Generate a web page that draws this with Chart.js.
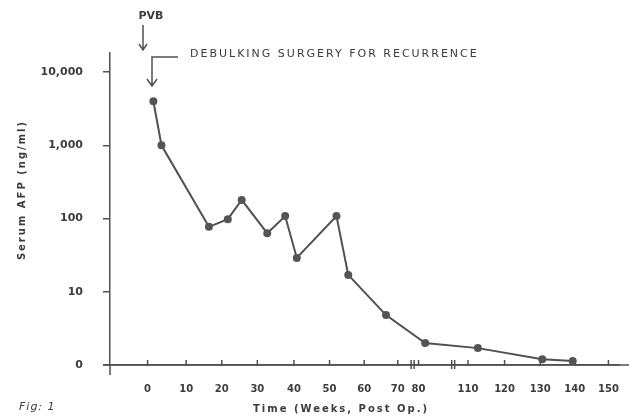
<!DOCTYPE html>
<html>
<head>
<meta charset="utf-8">
<script src="https://cdn.jsdelivr.net/npm/chart.js@4/dist/chart.umd.min.js"></script>
<style>
 html, body { margin: 0; background: #fff; }
</style>
</head>
<body>
<canvas id="afpChart" width="629" height="419"></canvas>
<script>
 // Serum AFP after surgery (weeks post op, ng/ml)
 const weeks = [1.5, 3.6, 16.4, 21.7, 25.6, 32.7, 37.6, 40.8, 52, 55.4, 66.5, 84, 112.7, 130.6, 139.4];
 const afpValues = [4000, 1000, 77, 98, 179, 63, 108, 29, 108, 17, 4.8, 2.0, 1.7, 1.2, 1.13];

 // broken time axis: tick labels and where they sit on the axis
 const tickWeeks = [0, 10, 20, 30, 40, 50, 60, 70, 80, 110, 120, 130, 140, 150];
 const tickLabels = ['0', '10', '20', '30', '40', '50', '60', '70', '80', '110', '120', '130', '140', '150'];
 const tickPos = [38, 77, 113, 149, 186, 222, 257, 291, 312, 362, 399, 435, 470, 504];
 const breakPos = [306, 347];

 const yTickValues = [1, 10, 100, 1000, 10000];
 const yTickLabels = ['0', '10', '100', '1,000', '10,000'];

 const ink = '#505050';
 const textInk = '#3c3c3c';

 // weeks -> position on the drawn (broken) axis
 function weekToPos(w) {
 	for (let i = 0; i < tickWeeks.length - 1; i++) {
 		if (w <= tickWeeks[i + 1]) {
 			const t = (w - tickWeeks[i]) / (tickWeeks[i + 1] - tickWeeks[i]);
 			return tickPos[i] + t * (tickPos[i + 1] - tickPos[i]);
 		}
 	}
 	return tickPos[tickPos.length - 1];
 }

 const extras = {
 	id: 'extras',
 	afterDraw(chart) {
 		const ctx = chart.ctx;
 		const xs = chart.scales.x;
 		const area = chart.chartArea;
 		ctx.save();
 		ctx.strokeStyle = ink;
 		ctx.fillStyle = textInk;
 		ctx.lineWidth = 1.5;

 		// small tick marks on the time axis
 		tickPos.forEach(p => {
 			const x = xs.getPixelForValue(p);
 			ctx.beginPath();
 			ctx.moveTo(x, area.bottom - 5);
 			ctx.lineTo(x, area.bottom + 1);
 			ctx.stroke();
 		});

 		// axis break marks
 		breakPos.forEach(p => {
 			const x = xs.getPixelForValue(p);
 			ctx.beginPath();
 			ctx.moveTo(x - 1.5, area.bottom - 5); ctx.lineTo(x - 1.5, area.bottom + 4);
 			ctx.moveTo(x + 1.5, area.bottom - 5); ctx.lineTo(x + 1.5, area.bottom + 4);
 			ctx.stroke();
 		});

 		// axis stubs past the origin and to the right edge
 		ctx.beginPath();
 		ctx.moveTo(area.left, area.bottom); ctx.lineTo(area.left, area.bottom + 10);
 		ctx.moveTo(area.left - 7, area.bottom); ctx.lineTo(chart.width, area.bottom);
 		ctx.stroke();

 		// PVB arrow
 		ctx.font = 'bold 11px "DejaVu Sans"';
 		ctx.textAlign = 'center';
 		ctx.textBaseline = 'middle';
 		ctx.fillText('PVB', 151, 16);
 		ctx.beginPath();
 		ctx.moveTo(143, 25); ctx.lineTo(143, 50);
 		ctx.moveTo(139, 44); ctx.lineTo(143, 50); ctx.lineTo(147, 44);
 		ctx.stroke();

 		// debulking surgery arrow
 		ctx.beginPath();
 		ctx.moveTo(178, 57); ctx.lineTo(152, 57); ctx.lineTo(152, 86);
 		ctx.moveTo(147, 79); ctx.lineTo(152, 86); ctx.lineTo(157, 79);
 		ctx.stroke();
 		ctx.textAlign = 'left';
 		ctx.letterSpacing = '2px';
 		ctx.font = '11px "DejaVu Sans"';
 		ctx.fillText('DEBULKING SURGERY FOR RECURRENCE', 190, 54);

 		// axis titles
 		ctx.font = 'bold 10px "DejaVu Sans"';
 		ctx.letterSpacing = '2px';
 		ctx.textAlign = 'center';
 		ctx.fillText('Time (Weeks, Post Op.)', 341, 409);
 		ctx.save();
 		ctx.translate(22, 190);
 		ctx.rotate(-Math.PI / 2);
 		ctx.fillText('Serum AFP (ng/ml)', 0, 0);
 		ctx.restore();

 		ctx.letterSpacing = '1px';
 		ctx.font = 'italic 11px "DejaVu Sans"';
 		ctx.textAlign = 'left';
 		ctx.fillText('Fig: 1', 19, 407);
 		ctx.restore();
 	}
 };

 const ctxAfp = document.getElementById('afpChart').getContext('2d');

 const afpChart = new Chart(ctxAfp, {
 	type: 'line',
 	data: {
 		datasets: [{
 			label: 'Serum AFP',
 			data: weeks.map((w, i) => ({ x: weekToPos(w), y: afpValues[i] })),
 			borderColor: ink,
 			borderWidth: 2,
 			pointBackgroundColor: '#555',
 			pointBorderColor: '#555',
 			pointRadius: 3,
 			tension: 0
 		}]
 	},
 	options: {
 		responsive: false,
 		animation: false,
 		devicePixelRatio: 1,
 		layout: { padding: { top: 53, right: 4, left: 0, bottom: 0 } },
 		plugins: {
 			legend: { display: false },
 			tooltip: { enabled: false }
 		},
 		scales: {
 			x: {
 				type: 'linear',
 				min: 0,
 				max: 515,
 				afterBuildTicks: s => { s.ticks = tickPos.map(v => ({ value: v })); },
 				afterFit: s => { s.height = 54; },
 				grid: { display: false },
 				border: { color: ink, width: 1.5 },
 				ticks: {
 					autoSkip: false,
 					maxRotation: 0,
 					padding: 10,
 					color: textInk,
 					font: { family: 'DejaVu Sans', size: 10, weight: 'bold' },
 					callback: (v, i) => tickLabels[i]
 				}
 			},
 			y: {
 				type: 'logarithmic',
 				min: 1,
 				max: 18200,
 				afterBuildTicks: s => { s.ticks = yTickValues.map(v => ({ value: v })); },
 				afterFit: s => { s.width = 110; },
 				grid: { drawOnChartArea: false, tickLength: 7, color: ink, lineWidth: 1.5 },
 				border: { color: ink, width: 1.5 },
 				ticks: {
 					padding: 20,
 					color: textInk,
 					font: { family: 'DejaVu Sans', size: 11, weight: 'bold' },
 					callback: (v, i) => yTickLabels[i]
 				}
 			}
 		}
 	},
 	plugins: [extras]
 });
</script>
</body>
</html>
